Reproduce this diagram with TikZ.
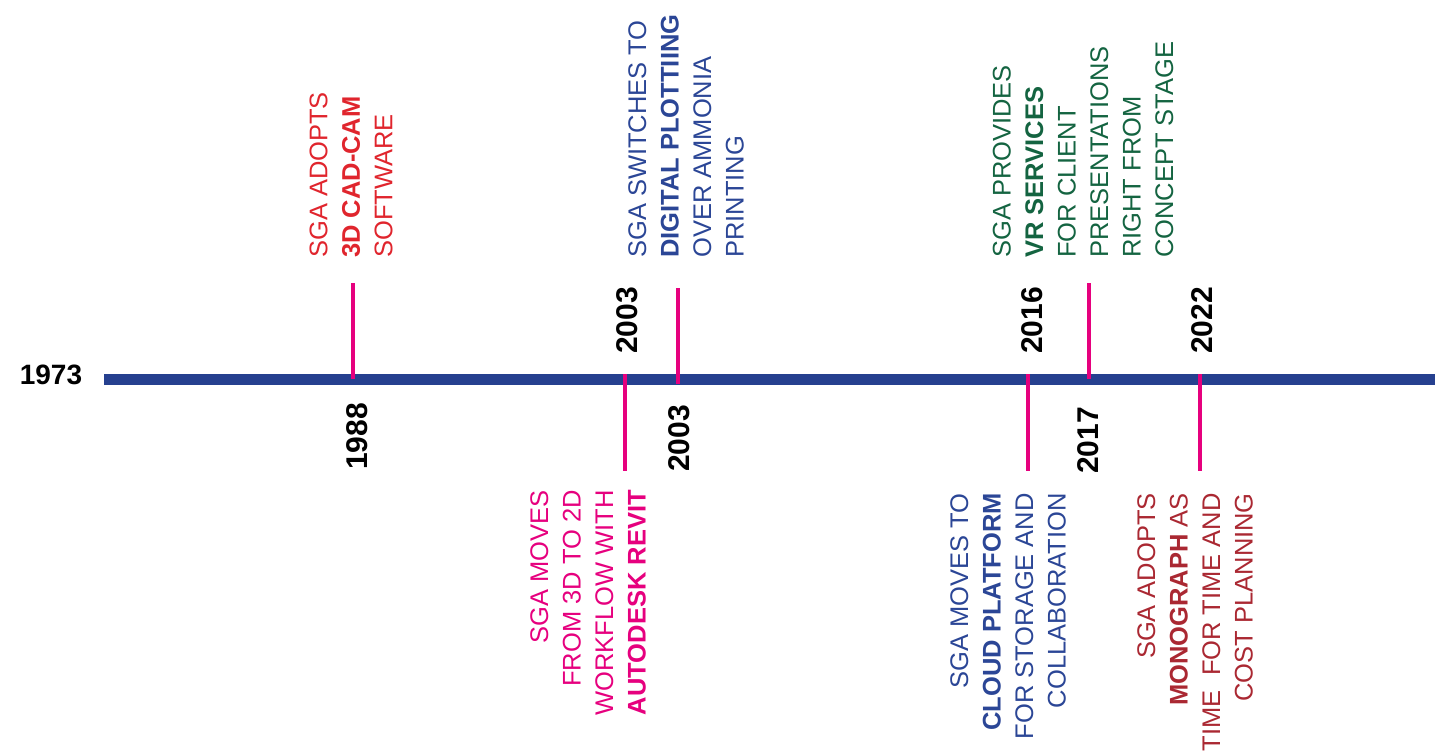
\documentclass[tikz,border=0pt]{standalone}
\usepackage{fontspec}
\setmainfont{Liberation Sans}
\usetikzlibrary{positioning}

\definecolor{barblue}{RGB}{38,64,143}
\definecolor{linepink}{RGB}{230,0,126}
\definecolor{cadred}{RGB}{224,37,45}
\definecolor{plotblue}{RGB}{43,70,150}
\definecolor{vrgreen}{RGB}{20,100,65}
\definecolor{monored}{RGB}{170,40,50}

\begin{document}
\begin{tikzpicture}[x=1pt, y=-1pt,
	yearline/.style={draw=linepink, line width=4.5pt},
	yearlabel/.style={inner sep=0pt, font=\bfseries\fontsize{28}{30}\selectfont},
	upright/.style={rotate=90, font=\bfseries\fontsize{30}{32}\selectfont},
	eventtext/.style={rotate=90, inner sep=0pt,
	font=\fontsize{25.5}{32.5}\selectfont}
	]
	\useasboundingbox (0,0) rectangle (1447,751);
	
	% main bar
	\coordinate (barstart) at (104,379);
	\coordinate (barend) at (1435,379);
	\draw[barblue, line width=11pt] (barstart) -- (barend);
	\node[yearlabel] (y1973) at (51,375) {1973};
	
	% year lines
	\coordinate (l1988a) at (353,283);
	\coordinate (l1988b) at (353,379);
	\coordinate (l2003a) at (625,374);
	\coordinate (l2003b) at (625,471);
	\coordinate (l2003c) at (678,288);
	\coordinate (l2003d) at (678,384);
	\coordinate (l2016a) at (1028,374);
	\coordinate (l2016b) at (1028,471);
	\coordinate (l2017a) at (1089,283);
	\coordinate (l2017b) at (1089,379);
	\coordinate (l2022a) at (1200,374);
	\coordinate (l2022b) at (1200,471);
	\draw[yearline] (l1988a) -- (l1988b);
	\draw[yearline] (l2003a) -- (l2003b);
	\draw[yearline] (l2003c) -- (l2003d);
	\draw[yearline] (l2016a) -- (l2016b);
	\draw[yearline] (l2017a) -- (l2017b);
	\draw[yearline] (l2022a) -- (l2022b);
	
	% year labels
	\node[yearlabel, upright, anchor=east] (y1988) at (357,403) {1988};
	\node[yearlabel, upright, anchor=west] (y2003a) at (627,354) {2003};
	\node[yearlabel, upright, anchor=east] (y2003b) at (679,405) {2003};
	\node[yearlabel, upright, anchor=west] (y2016) at (1032,354) {2016};
	\node[yearlabel, upright, anchor=east] (y2017) at (1088,407) {2017};
	\node[yearlabel, upright, anchor=west] (y2022) at (1202,354) {2022};
	
	% events above the bar
	\node[eventtext, anchor=west, align=left, text=cadred] (e1988) at (351,258)
	{SGA ADOPTS\\\textbf{3D CAD-CAM}\\SOFTWARE};
	\node[eventtext, anchor=west, align=left, text=plotblue] (e2003b) at (686,258)
	{SGA SWITCHES TO\\\textbf{DIGITAL PLOTTIING}\\OVER AMMONIA\\PRINTING};
	\node[eventtext, anchor=west, align=left, text=vrgreen] (e2017) at (1083,258)
	{SGA PROVIDES\\\textbf{VR SERVICES}\\FOR CLIENT\\PRESENTATIONS\\RIGHT FROM\\CONCEPT STAGE};
	
	% events below the bar
	\node[eventtext, anchor=east, align=right, text=linepink] (e2003a) at (588,490)
	{SGA MOVES\\FROM 3D TO 2D\\WORKFLOW WITH\\\textbf{AUTODESK REVIT}};
	\node[eventtext, anchor=east, align=right, text=plotblue] (e2016) at (1008,493)
	{SGA MOVES TO\\\textbf{CLOUD PLATFORM}\\FOR STORAGE AND\\COLLABORATION};
	\node[eventtext, anchor=east, align=right, text=monored] (e2022) at (1195,493)
	{SGA ADOPTS\\\textbf{MONOGRAPH} AS\\TIME\ \ FOR TIME AND\\COST PLANNING};
\end{tikzpicture}
\end{document}
